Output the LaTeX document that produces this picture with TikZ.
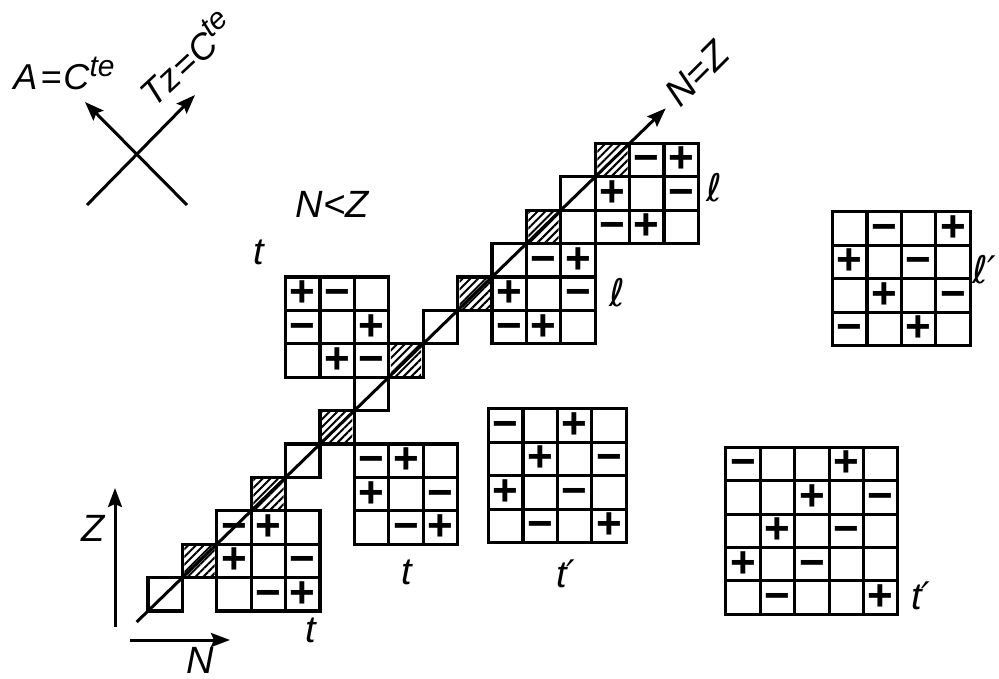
\documentclass[tikz,border=0pt]{standalone}
\usepackage{fontspec}
\setmainfont{Liberation Sans}
\newfontfamily\signfont{Liberation Sans}
\newfontfamily\dejavu{DejaVu Sans}
\usetikzlibrary{arrows.meta,patterns.meta}
\tikzset{
  cell/.style={line width=3.1pt},
  hatch/.style={pattern={Lines[angle=45,distance=5.5pt,line width=2pt]}},
  sgn/.style={inner sep=0pt, font=\signfont\bfseries\fontsize{44}{44}\selectfont},
  lab/.style={inner sep=0pt, font=\itshape\fontsize{38}{40}\selectfont},
  elllab/.style={inner sep=0pt, font=\dejavu\itshape\fontsize{38}{40}\selectfont},
  axisarrow/.style={line width=3pt, -{Stealth[length=19pt,width=14pt,inset=3pt]}},
}
\newcommand\cellgrid[4]{\foreach \ii in {1,...,#3}{\foreach \jj in {1,...,#4}{\draw[cell] ({#1+\ii-1},{#2+\jj-1}) rectangle ++(1,1);}}}
\newcommand\putsigns[4]{\foreach \colI/\rowI/\sgnI in {#4}{\node[sgn] (#1-\colI-\rowI) at ({#2+\colI+0.5},{#3-\rowI-0.5}) {\vphantom{+}\sgnI};}}
\begin{document}
\begin{tikzpicture}[x=1pt,y=-1pt]
\useasboundingbox (0,0) rectangle (999,679);
\fill[white] (0,0) rectangle (999,679);
% ---- top-left cross
\coordinate (aS) at (187,205); \coordinate (aE) at (85,102);
\coordinate (tS) at (87,205);  \coordinate (tE) at (195,95);
\draw[axisarrow] (aS) -- (aE);
\draw[axisarrow] (tS) -- (tE);
\node[lab, font=\itshape\fontsize{36}{40}\selectfont] (labA) at (64,73) {A\kern3pt=\kern2ptC\raisebox{13pt}{\fontsize{30}{30}\selectfont te}};
\node[lab, font=\itshape\fontsize{36}{40}\selectfont, rotate=43] (labT) at (186,58) {Tz\kern2pt=\kern1ptC\raisebox{13pt}{\fontsize{30}{30}\selectfont te}};
% ---- N, Z axes
\coordinate (zA) at (115,627); \coordinate (zB) at (115,488);
\coordinate (nA) at (130,640); \coordinate (nB) at (230,640);
\draw[axisarrow] (zA) -- (zB);
\draw[axisarrow] (nA) -- (nB);
\node[lab] (labZ) at (93,528) {Z};
\node[lab] (labN) at (200,660) {N};
\node[lab] (labNZ) at (332,204) {N<Z};
\node[lab, rotate=45] (labNeqZ) at (697,74) {N=Z};
% ---- labels
\node[lab] (lt1) at (259,252) {t};
\node[lab] (lt2) at (407,572) {t};
\node[lab] (lt3) at (311,630) {t};
\node[lab] (ltp1) at (566,574) {t{\dejavu ′}};
\node[lab] (ltp2) at (921,596) {t{\dejavu ′}};
\node[elllab] (ll1) at (714,188) {ℓ};
\node[elllab] (ll2) at (617,293) {ℓ};
\node[elllab, anchor=west] (llp) at (972,270) {ℓ′};
% ---- grid part
\begin{scope}[shift={(148pt,-611pt)}, x=34.4pt, y=33.4pt]
  % hatched diagonal cells
  \foreach \k in {1,3,5,7,9,11,13}{\fill[hatch] ({\k+0.06},{\k+0.06}) rectangle ({\k+0.94},{\k+0.94});}
  % diagonal cells
  \foreach \k in {0,...,13}{\draw[cell] (\k,\k) rectangle ++(1,1);}
  % extra cell
  \draw[cell] (12,11) rectangle ++(1,1);
  % grids
  \cellgrid{2}{0}{3}{3}
  \cellgrid{4}{7}{3}{3}
  \cellgrid{10}{8}{3}{3}
  \cellgrid{13}{11}{3}{3}
  \cellgrid{6}{2}{3}{3}
  \cellgrid{9.9}{2.05}{4}{4}
  \cellgrid{16.8}{-0.1}{5}{5}
  \cellgrid{19.9}{7.95}{4}{4}
  % diagonal N=Z line
  \coordinate (dS) at (-0.33,-0.33);
  \coordinate (dE) at (15.05,15.05);
  \draw[axisarrow] (dS) -- (dE);
  % signs
  \putsigns{tA}{2}{3}{0/0/−,1/0/+,0/1/+,2/1/−,1/2/−,2/2/+}
  \putsigns{tB}{4}{10}{0/0/+,1/0/−,0/1/−,2/1/+,1/2/+,2/2/−}
  \putsigns{lA}{10}{11}{1/0/−,2/0/+,0/1/+,2/1/−,0/2/−,1/2/+}
  \putsigns{lB}{13}{14}{1/0/−,2/0/+,0/1/+,2/1/−,0/2/−,1/2/+}
  \putsigns{tC}{6}{5}{0/0/−,1/0/+,0/1/+,2/1/−,1/2/−,2/2/+}
  \putsigns{tpA}{9.9}{6.05}{0/0/−,2/0/+,1/1/+,3/1/−,0/2/+,2/2/−,1/3/−,3/3/+}
  \putsigns{tpB}{16.8}{4.9}{0/0/−,3/0/+,2/1/+,4/1/−,1/2/+,3/2/−,0/3/+,2/3/−,1/4/−,4/4/+}
  \putsigns{lpA}{19.9}{11.95}{1/0/−,3/0/+,0/1/+,2/1/−,1/2/+,3/2/−,0/3/−,2/3/+}
\end{scope}
\end{tikzpicture}
\end{document}
